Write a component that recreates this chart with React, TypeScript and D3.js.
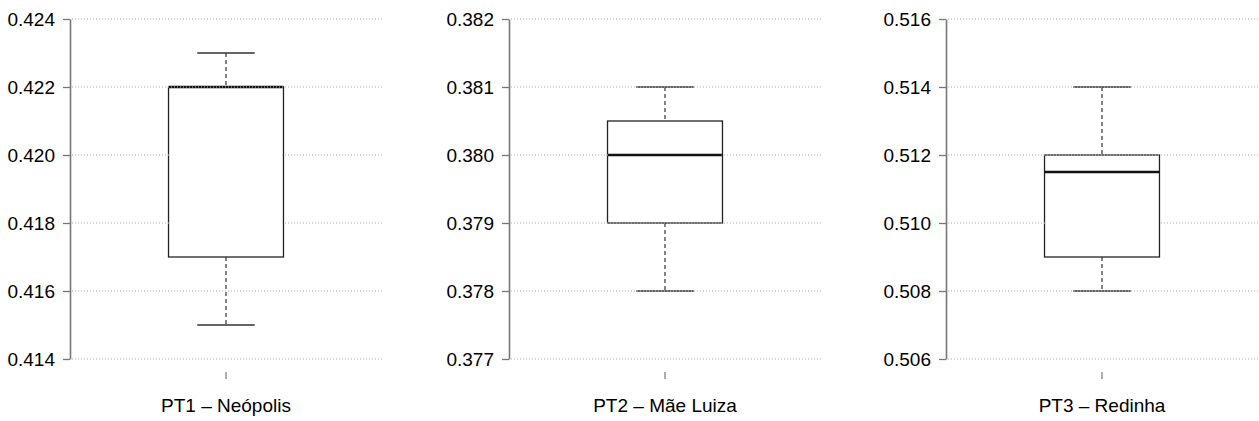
import * as d3 from 'd3'
import { useEffect, useRef } from 'react'

// One box per panel
const categories = ['PT1 – Neópolis', 'PT2 – Mãe Luiza', 'PT3 – Redinha']
const whiskerLow = [0.415, 0.378, 0.508]
const q1 = [0.417, 0.379, 0.509]
const median = [0.422, 0.38, 0.5115]
const q3 = [0.422, 0.3805, 0.512]
const whiskerHigh = [0.423, 0.381, 0.514]

const yDomains: [number, number][] = [
    [0.414, 0.424],
    [0.377, 0.382],
    [0.506, 0.516],
]
const yTicks = [
    [0.414, 0.416, 0.418, 0.42, 0.422, 0.424],
    [0.377, 0.378, 0.379, 0.38, 0.381, 0.382],
    [0.506, 0.508, 0.51, 0.512, 0.514, 0.516],
]

export default function App() {
    const svgRef = useRef<SVGSVGElement>(null)
    const width = 1259
    const height = 421

    useEffect(() => {
        if (!svgRef.current) return
        const svg = d3.select(svgRef.current)
        svg.selectAll('*').remove()

        const axisX = [70, 509, 946]
        const plotW = 312
        const top = 19
        const bottom = 359
        const font = '"Liberation Sans", Arial, Helvetica, sans-serif'

        categories.forEach((cat, i) => {
            const g = svg.append('g')
            const x0 = axisX[i]

            const x = d3
                .scaleBand()
                .domain([cat])
                .range([x0, x0 + plotW])
                .paddingInner(0)
                .paddingOuter(0.857)
            const bw = x.bandwidth()
            const cx = (x(cat) || 0) + bw / 2

            const y = d3.scaleLinear().domain(yDomains[i]).range([bottom, top])

            const drawGrid = (sel: d3.Selection<SVGGElement, unknown, null, undefined>) => {
                sel.selectAll('line')
                    .data(yTicks[i])
                    .enter()
                    .append('line')
                    .attr('x1', x0 + 2)
                    .attr('x2', x0 + plotW)
                    .attr('y1', (d) => y(d))
                    .attr('y2', (d) => y(d))
                    .attr('stroke', '#c8c8c8')
                    .attr('stroke-width', 1)
                    .attr('stroke-dasharray', '1,2')
            }

            // gridlines under the box
            drawGrid(g.append('g'))

            // whiskers (dashed)
            g.append('line')
                .attr('x1', cx)
                .attr('x2', cx)
                .attr('y1', y(whiskerHigh[i]))
                .attr('y2', y(q3[i]))
                .attr('stroke', '#333')
                .attr('stroke-width', 1.2)
                .attr('stroke-dasharray', '4,3')
            g.append('line')
                .attr('x1', cx)
                .attr('x2', cx)
                .attr('y1', y(q1[i]))
                .attr('y2', y(whiskerLow[i]))
                .attr('stroke', '#333')
                .attr('stroke-width', 1.2)
                .attr('stroke-dasharray', '4,3')

            // caps
            ;[whiskerHigh[i], whiskerLow[i]].forEach((v) => {
                g.append('line')
                    .attr('x1', cx - bw / 4)
                    .attr('x2', cx + bw / 4)
                    .attr('y1', y(v))
                    .attr('y2', y(v))
                    .attr('stroke', '#333')
                    .attr('stroke-width', 1.3)
            })

            // box
            g.append('rect')
                .attr('x', x(cat) || 0)
                .attr('y', y(q3[i]))
                .attr('width', bw)
                .attr('height', y(q1[i]) - y(q3[i]))
                .attr('fill', '#fff')
                .attr('stroke', '#222')
                .attr('stroke-width', 1.3)

            // median
            g.append('line')
                .attr('x1', x(cat) || 0)
                .attr('x2', (x(cat) || 0) + bw)
                .attr('y1', y(median[i]))
                .attr('y2', y(median[i]))
                .attr('stroke', '#111')
                .attr('stroke-width', 2.6)

            // gridlines over the box edges, hidden inside the box
            const maskId = `boxmask-${i}`
            const mask = svg.append('defs').append('mask').attr('id', maskId)
            mask.append('rect')
                .attr('x', 0)
                .attr('y', 0)
                .attr('width', width)
                .attr('height', height)
                .attr('fill', '#fff')
            mask.append('rect')
                .attr('x', (x(cat) || 0) + 1)
                .attr('y', y(q3[i]) + 1.5)
                .attr('width', bw - 2)
                .attr('height', y(q1[i]) - y(q3[i]) - 3)
                .attr('fill', '#000')
            drawGrid(g.append('g').attr('mask', `url(#${maskId})`))

            // y axis
            const yAxis = g
                .append('g')
                .attr('transform', `translate(${x0},0)`)
                .call(d3.axisLeft(y).tickValues(yTicks[i]).tickSize(7).tickSizeOuter(0).tickFormat(d3.format('.3f')))
            yAxis.select('.domain').attr('stroke', '#777').attr('stroke-width', 1.6)
            yAxis.selectAll('.tick line').attr('stroke', '#777').attr('stroke-width', 1.3)
            yAxis
                .selectAll('.tick text')
                .attr('x', -15)
                .attr('fill', '#000')
                .style('font-family', font)
                .style('font-size', '19px')

            // x tick and label
            g.append('line')
                .attr('x1', cx)
                .attr('x2', cx)
                .attr('y1', bottom + 13)
                .attr('y2', bottom + 20)
                .attr('stroke', '#777')
                .attr('stroke-width', 1.2)
            g.append('text')
                .attr('x', cx)
                .attr('y', 412)
                .attr('text-anchor', 'middle')
                .attr('fill', '#000')
                .style('font-family', font)
                .style('font-size', '19px')
                .text(cat)
        })
    }, [])

    return (
        <svg
            ref={svgRef}
            width={width}
            height={height}
            style={{ position: 'absolute', left: 0, top: 0, background: '#fff' }}
        />
    )
}
